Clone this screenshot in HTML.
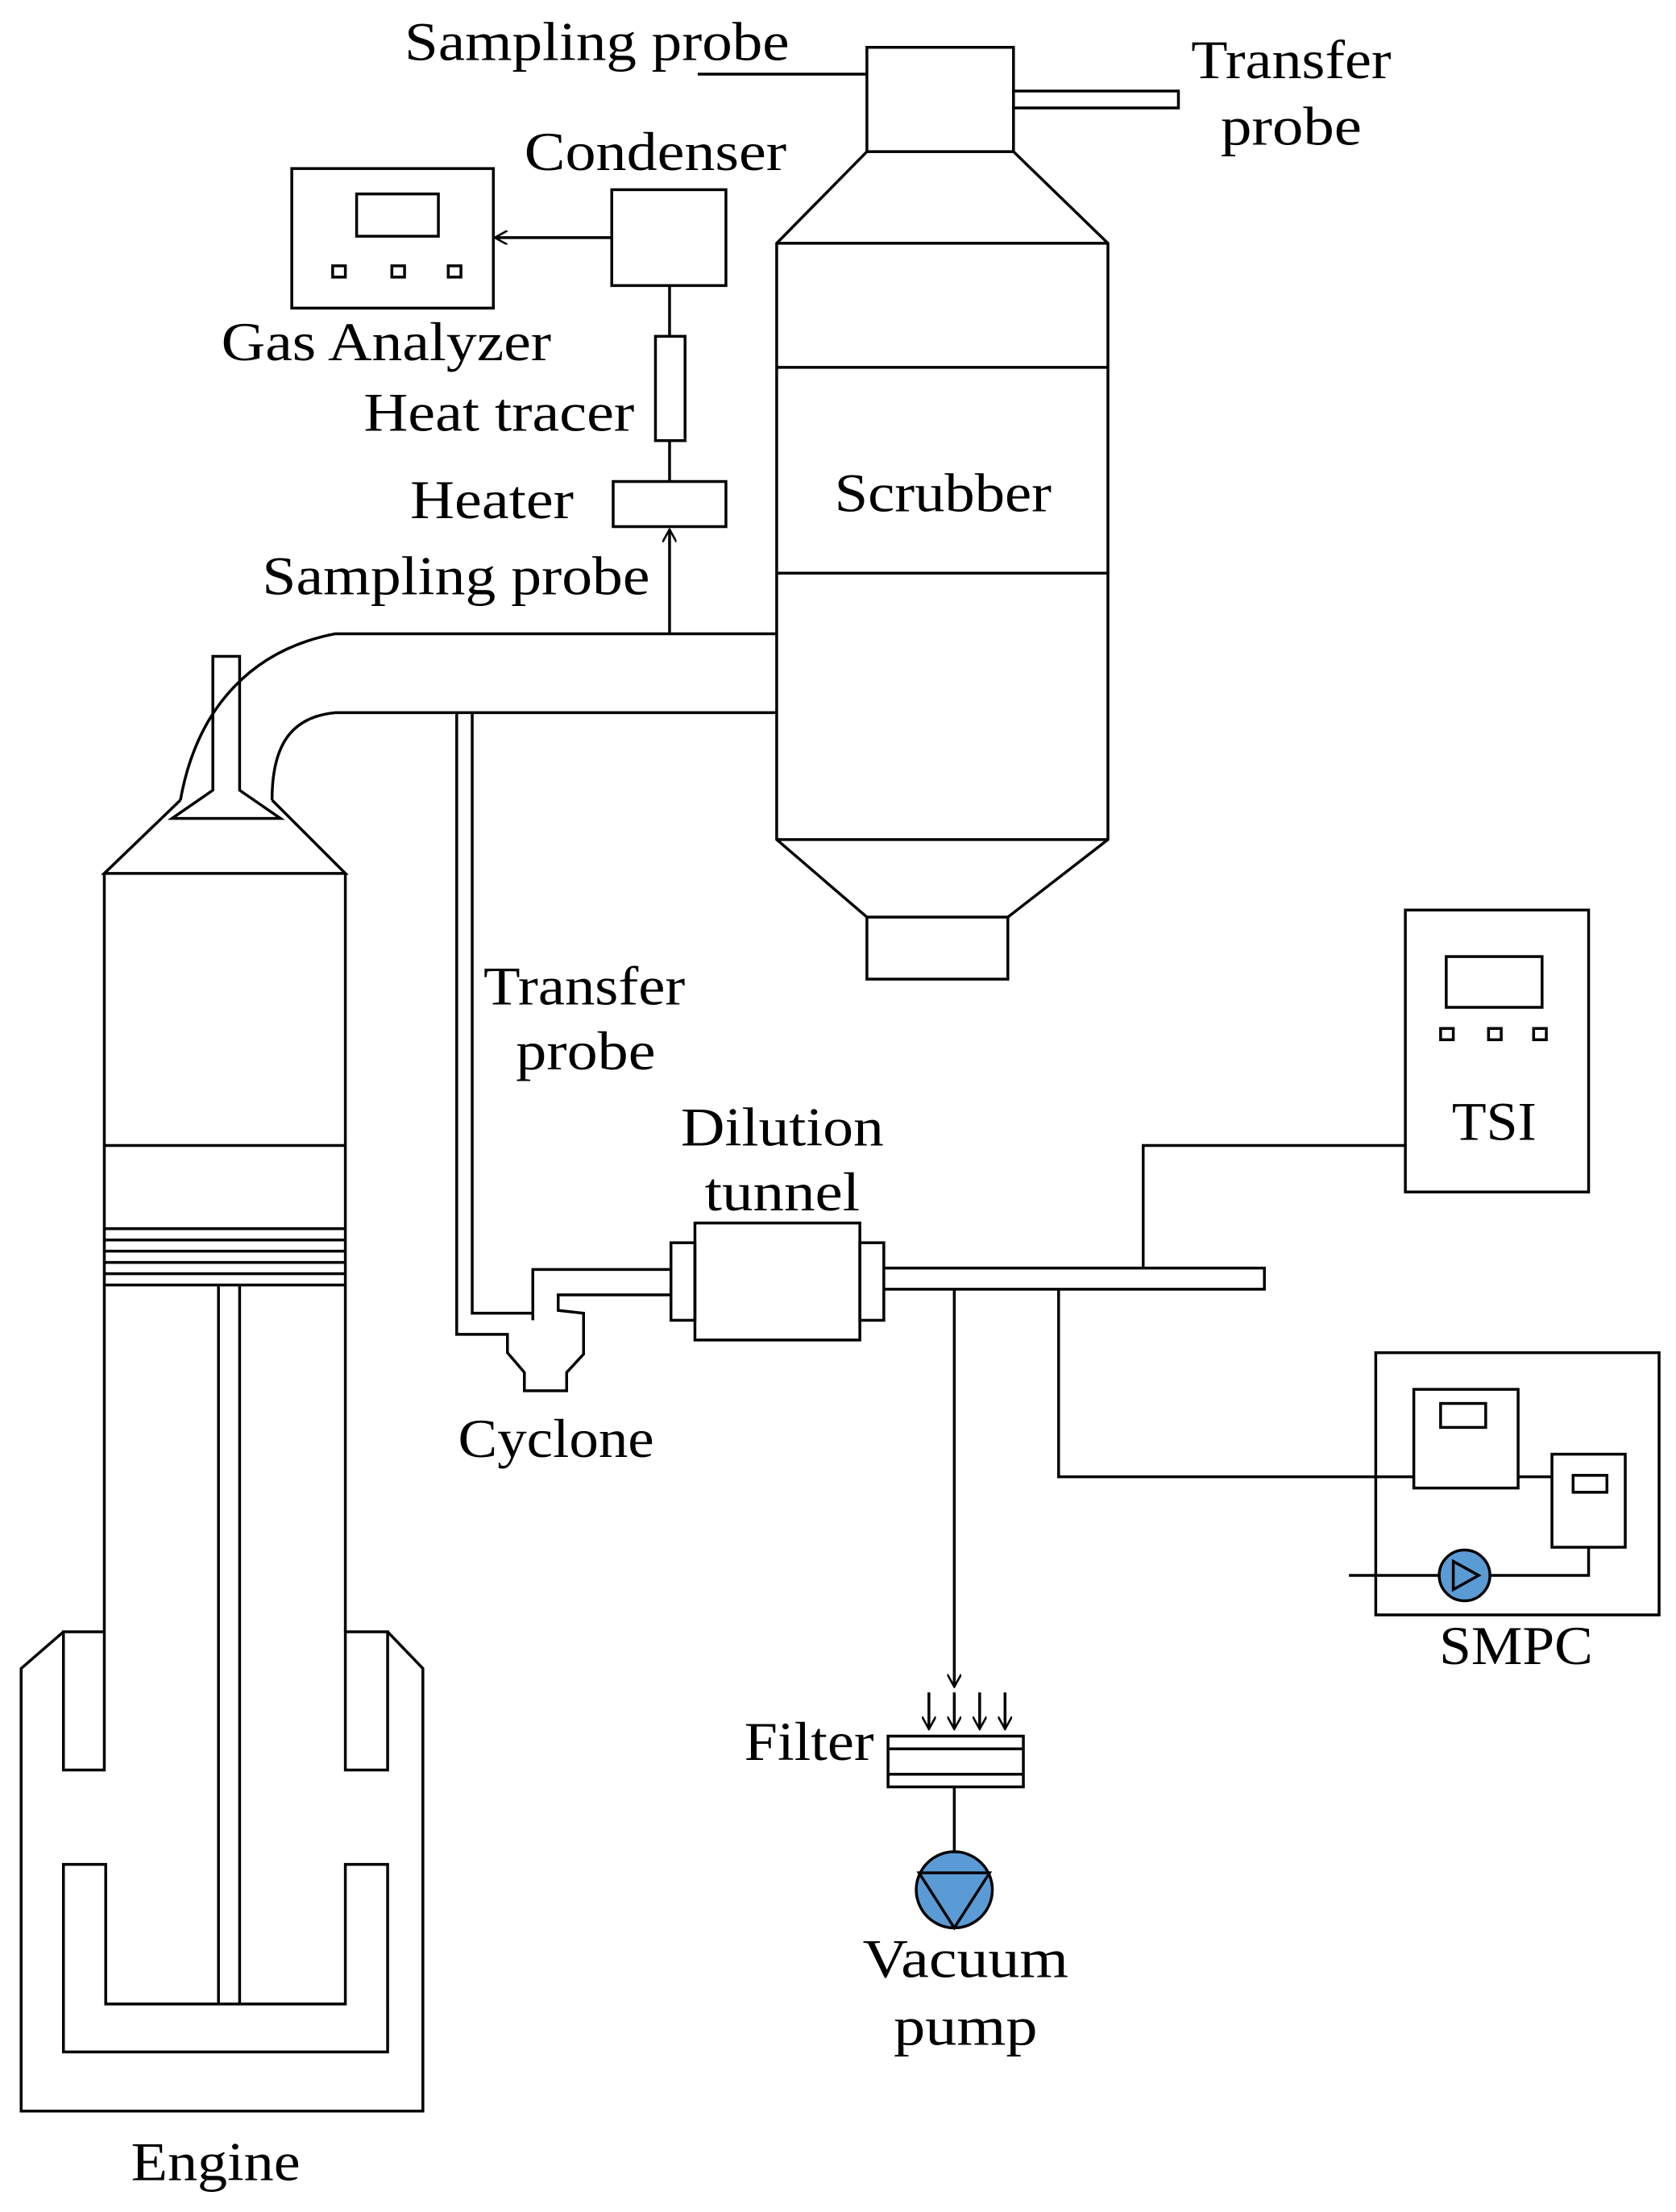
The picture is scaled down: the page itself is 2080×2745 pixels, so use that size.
<!DOCTYPE html>
<html><head><meta charset="utf-8"><style>html,body{margin:0;padding:0;background:#fff}svg{display:block}</style></head>
<body>
<svg width="2080" height="2745" viewBox="0 0 1189 1568" xmlns="http://www.w3.org/2000/svg">
<defs><marker id="ah" markerWidth="10" markerHeight="10" refX="9" refY="5" orient="auto" markerUnits="userSpaceOnUse"><path d="M0,0 L9,5 L0,10" fill="none" stroke="#000" stroke-width="1.5"/></marker></defs>
<g fill="none" stroke="#000" stroke-width="2">
<rect x="615" y="33" width="104" height="74"/>
<line x1="495" y1="52" x2="615" y2="52"/>
<rect x="719" y="64" width="117" height="12"/>
<path d="M615,107 L551,172 L551,595 L615,650 M719,107 L786,172 L786,595 L715,650"/>
<line x1="551" y1="172" x2="786" y2="172"/>
<line x1="551" y1="260" x2="786" y2="260"/>
<line x1="551" y1="406" x2="786" y2="406"/>
<line x1="551" y1="595" x2="786" y2="595"/>
<rect x="615" y="650" width="100" height="44"/>
<rect x="207" y="119" width="143" height="99"/>
<rect x="253" y="137" width="58" height="30"/>
<rect x="236" y="188" width="9" height="8"/><rect x="278" y="188" width="9" height="8"/><rect x="318" y="188" width="9" height="8"/>
<line x1="434" y1="168" x2="351" y2="168" marker-end="url(#ah)"/>
<rect x="434" y="134" width="81" height="68"/>
<line x1="475" y1="202" x2="475" y2="238"/>
<rect x="465" y="238" width="21" height="74"/>
<line x1="475" y1="312" x2="475" y2="341"/>
<rect x="435" y="341" width="80" height="32"/>
<line x1="475" y1="449" x2="475" y2="375" marker-end="url(#ah)"/>
<path d="M128,567 C140,500 180,460 238,449 L551,449"/>
<path d="M193,567 C193,530 205,508 238,505 L551,505"/>
<path d="M151,560 L151,465 L170,465 L170,560 L199,580 L122,580 Z"/>
<path d="M128,567 L74,619 L245,619 L193,567"/>
<path d="M74,619 L74,1157 M245,619 L245,1157"/>
<line x1="74" y1="812" x2="245" y2="812"/>
<line x1="74" y1="871" x2="245" y2="871"/><line x1="74" y1="879" x2="245" y2="879"/>
<line x1="74" y1="887" x2="245" y2="887"/><line x1="74" y1="895" x2="245" y2="895"/>
<line x1="74" y1="903" x2="245" y2="903"/><line x1="74" y1="911" x2="245" y2="911"/>
<path d="M155,911 L155,1421 M170,911 L170,1421"/>
<path d="M74,1157 L45,1157 L45,1255 L74,1255 L74,1157"/>
<path d="M245,1157 L275,1157 L275,1255 L245,1255 Z"/>
<path d="M45,1157 L15,1183 L15,1497 L300,1497 L300,1183 L275,1157"/>
<path d="M45,1322 L75,1322 L75,1421 L245,1421 L245,1322 L275,1322 L275,1455 L45,1455 Z"/>
<path d="M324,505 L324,946 L360,946 L360,959 L372,973 L372,986 L402,986 L402,973 L414,960 L414,931 L396,929 L396,918 L476,918"/>
<path d="M335,505 L335,931 L378,931 M378,936 L378,900 L476,900"/>
<rect x="476" y="881" width="17" height="55"/>
<rect x="493" y="867" width="117" height="83"/>
<rect x="610" y="881" width="17" height="55"/>
<path d="M627,899 L897,899 L897,914 L627,914"/>
<path d="M811,899 L811,812 L997,812"/>
<rect x="997" y="645" width="130" height="200"/>
<rect x="1026" y="678" width="68" height="36"/>
<rect x="1022" y="729" width="9" height="8"/><rect x="1056" y="729" width="9" height="8"/><rect x="1088" y="729" width="9" height="8"/>
<path d="M751,914 L751,1047 L1003,1047"/>
<rect x="976" y="959" width="201" height="186"/>
<rect x="1003" y="985" width="74" height="70"/>
<rect x="1022" y="995" width="32" height="17"/>
<rect x="1101" y="1031" width="52" height="66"/>
<rect x="1116" y="1046" width="24" height="12"/>
<path d="M1077,1047 L1101,1047"/>
<path d="M957,1117 L1021,1117 M1057,1117 L1127,1117 L1127,1097"/>
<circle cx="1039" cy="1117" r="18" fill="#5b9bd5"/>
<path d="M1031,1107 L1049,1117 L1031,1127 Z"/>
<line x1="677" y1="914" x2="677" y2="1196" marker-end="url(#ah)"/>
<line x1="659" y1="1200" x2="659" y2="1226" marker-end="url(#ah)"/>
<line x1="677" y1="1200" x2="677" y2="1226" marker-end="url(#ah)"/>
<line x1="695" y1="1200" x2="695" y2="1226" marker-end="url(#ah)"/>
<line x1="713" y1="1200" x2="713" y2="1226" marker-end="url(#ah)"/>
<rect x="630" y="1231" width="96" height="36"/>
<line x1="630" y1="1240" x2="726" y2="1240"/><line x1="630" y1="1258" x2="726" y2="1258"/>
<line x1="677" y1="1267" x2="677" y2="1313"/>
<circle cx="677" cy="1340" r="27" fill="#5b9bd5"/>
<path d="M652,1328 L702,1328 L677,1367 Z"/>
</g>
<g font-family="Liberation Serif, serif" font-size="39" fill="#000">
<text x="287" y="42" textLength="273" lengthAdjust="spacingAndGlyphs">Sampling probe</text>
<text x="845" y="55" textLength="142" lengthAdjust="spacingAndGlyphs">Transfer</text>
<text x="866" y="102" textLength="100" lengthAdjust="spacingAndGlyphs">probe</text>
<text x="372" y="120" textLength="186" lengthAdjust="spacingAndGlyphs">Condenser</text>
<text x="157" y="255" textLength="234" lengthAdjust="spacingAndGlyphs">Gas Analyzer</text>
<text x="258" y="305" textLength="192" lengthAdjust="spacingAndGlyphs">Heat tracer</text>
<text x="291" y="367" textLength="116" lengthAdjust="spacingAndGlyphs">Heater</text>
<text x="186" y="421" textLength="275" lengthAdjust="spacingAndGlyphs">Sampling probe</text>
<text x="592" y="362" textLength="154" lengthAdjust="spacingAndGlyphs">Scrubber</text>
<text x="343" y="712" textLength="143" lengthAdjust="spacingAndGlyphs">Transfer</text>
<text x="366" y="758" textLength="99" lengthAdjust="spacingAndGlyphs">probe</text>
<text x="483" y="812" textLength="144" lengthAdjust="spacingAndGlyphs">Dilution</text>
<text x="500" y="858" textLength="110" lengthAdjust="spacingAndGlyphs">tunnel</text>
<text x="1030" y="808" textLength="60" lengthAdjust="spacingAndGlyphs">TSI</text>
<text x="325" y="1033" textLength="139" lengthAdjust="spacingAndGlyphs">Cyclone</text>
<text x="1021" y="1180" textLength="109" lengthAdjust="spacingAndGlyphs">SMPC</text>
<text x="528" y="1248" textLength="92" lengthAdjust="spacingAndGlyphs">Filter</text>
<text x="612" y="1402" textLength="146" lengthAdjust="spacingAndGlyphs">Vacuum</text>
<text x="634" y="1450" textLength="102" lengthAdjust="spacingAndGlyphs">pump</text>
<text x="93" y="1546" textLength="120" lengthAdjust="spacingAndGlyphs">Engine</text>
</g>
</svg>
</body></html>
